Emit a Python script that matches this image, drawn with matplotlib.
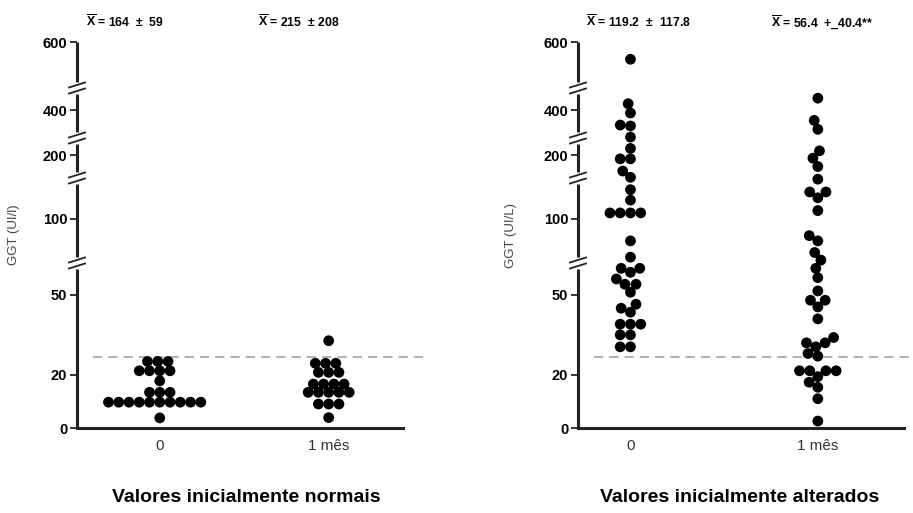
import numpy as np
import matplotlib
matplotlib.use('Agg')
import matplotlib.pyplot as plt
import matplotlib.transforms as mtransforms

# Dados (GGT em UI/L)
grupos = ['0', '1 mês']

normais_0 = [25, 25, 25, 21.5, 21.5, 21.5, 21.5, 17.7, 13.4, 13.4, 13.4,
             9.7, 9.7, 9.7, 9.7, 9.7, 9.7, 9.7, 9.7, 9.7, 9.7, 3.8]
normais_1 = [32.8, 24.3, 24.3, 24.3, 20.9, 20.9, 20.9, 16.5, 16.5, 16.5, 16.5,
             13.4, 13.4, 13.4, 13.4, 13.4, 9, 9, 9, 3.9]

alterados_0 = [570, 435, 385, 320, 315, 255, 220, 190, 190, 155, 137, 125, 116,
               105, 105, 105, 105, 81, 67, 60, 60, 58.5, 56, 54, 54, 51, 46.5,
               45, 43.5, 39, 39, 39, 35, 35, 30.5, 30.5]
alterados_1 = [465, 345, 297, 213, 192, 168, 134, 123, 123, 118, 107, 85.5, 81,
               71, 64.5, 60, 56.5, 51.5, 48, 48, 45.5, 41, 34, 32, 32, 30.5, 28,
               27, 21.5, 21.5, 21.5, 21.5, 19.3, 17.2, 15.3, 11, 2.6]

limite = 26.7   # linha tracejada
ticks_y = [0, 20, 50, 100, 200, 400, 600]

medias_normais = [r'$\overline{\mathbf{X}}$ = 164  $\pm$  59',
                  r'$\overline{\mathbf{X}}$ = 215  $\pm$ 208']
medias_alterados = [r'$\overline{\mathbf{X}}$ = 119.2  $\pm$  117.8',
                    r'$\overline{\mathbf{X}}$ = 56.4  +_40.4**']

# Eixo y quebrado: valor -> altura (px) em cada trecho
quebra_val = [0, 62, 135, 250, 520, 600]
quebra_px = [0, 165, 250, 290, 340, 386]
quebras = quebra_val[1:-1]


def fwd(v):
    return np.interp(v, quebra_val, quebra_px)


def inv(p):
    return np.interp(p, quebra_px, quebra_val)


plt.rcParams['font.family'] = ['Liberation Sans', 'DejaVu Sans']
plt.rcParams['mathtext.fontset'] = 'custom'
plt.rcParams['mathtext.rm'] = 'Liberation Sans:bold'
plt.rcParams['mathtext.bf'] = 'Liberation Sans:bold'

DIAM = 9.5       # distancia minima entre centros (px)
AX_W = 326       # largura do eixo em px


def swarm(valores):
    # deslocamentos horizontais tipo beeswarm (em px)
    ys = fwd(np.asarray(valores, float))
    xs = np.zeros(len(ys))
    colocados = []
    for i in np.argsort(ys, kind='stable'):
        y = ys[i]
        viz = [(xj, yj) for xj, yj in colocados if abs(yj - y) < DIAM]
        cands = [0.0]
        for xj, yj in viz:
            dx = np.sqrt(DIAM ** 2 - (yj - y) ** 2)
            cands += [xj - dx, xj + dx]
        cands.sort(key=lambda c: (abs(c), c))
        for c in cands:
            if all((c - xj) ** 2 + (y - yj) ** 2 >= DIAM ** 2 - 1e-6 for xj, yj in viz):
                break
        xs[i] = c
        colocados.append((c, y))
    return xs


def painel(ax, series, xlim, ylabel, lab_x):
    ax.set_yscale('function', functions=(fwd, inv))
    ax.set_ylim(0, 600)
    ax.set_xlim(*xlim)
    escala = (xlim[1] - xlim[0]) / AX_W
    for k, vals in enumerate(series):
        xs = k + swarm(vals) * escala * 1.08
        ax.scatter(xs, vals, s=60, color='black', edgecolors='none', zorder=3,
                   clip_on=False)

    ax.axhline(limite, xmin=0.05, xmax=1.07, color='#9a9a9a', lw=1.1,
               dashes=(6, 4), clip_on=False, zorder=1)

    # eixo y desenhado em trechos, com as marcas de quebra
    for s in ['top', 'right', 'left']:
        ax.spines[s].set_visible(False)
    ax.spines['bottom'].set_linewidth(2.2)
    ax.spines['bottom'].set_color('#222222')
    trans = mtransforms.blended_transform_factory(ax.transAxes, ax.transData)
    limites = [0] + quebras + [600]
    for j in range(len(limites) - 1):
        lo = limites[j] if j == 0 else inv(fwd(limites[j]) + 6)
        hi = limites[j + 1] if j == len(limites) - 2 else inv(fwd(limites[j + 1]) - 6)
        ax.plot([0, 0], [lo, hi], color='#222222', lw=2.2, transform=trans,
                clip_on=False, solid_capstyle='butt')
    dxa = 8 / AX_W
    for b in quebras:
        pb = fwd(b)
        for off in (-3, 3):
            ax.plot([-dxa, dxa], [inv(pb + off - 2.5), inv(pb + off + 2.5)],
                    color='#222222', lw=1.3, transform=trans, clip_on=False)

    ax.set_yticks(ticks_y)
    ax.set_yticklabels([str(t) for t in ticks_y], fontweight='bold', fontsize=10.5)
    ax.tick_params(axis='y', length=5, width=1.3, color='#222222', pad=2)
    ax.set_xticks(range(len(grupos)))
    ax.set_xticklabels(grupos, fontsize=11, color='#333333')
    ax.tick_params(axis='x', length=0, pad=8)
    ax.set_ylabel(ylabel, fontsize=9.5, color='#444444')
    ax.yaxis.set_label_coords(lab_x, 0.5)


fig = plt.figure(figsize=(9.13, 5.13), dpi=100)
ax1 = fig.add_axes([77 / 913, 85 / 513, AX_W / 913, 386 / 513])
ax2 = fig.add_axes([578 / 913, 85 / 513, AX_W / 913, 386 / 513])

painel(ax1, [normais_0, normais_1], (-0.49, 1.44), 'GGT (UI/l)', -57 / AX_W)
painel(ax2, [alterados_0, alterados_1], (-0.28, 1.46), 'GGT (UI/L)', -61 / AX_W)

# medias no topo de cada grupo
for x0, txt in zip([86, 258, 586, 771], medias_normais + medias_alterados):
    fig.text(x0 / 913, 1 - 22 / 513, txt, ha='left', va='center',
             fontsize=8.8, fontweight='bold')

fig.text(246 / 913, 1 - 497 / 513, 'Valores inicialmente normais', ha='center',
         va='center', fontsize=14, fontweight='bold')
fig.text(740 / 913, 1 - 497 / 513, 'Valores inicialmente alterados', ha='center',
         va='center', fontsize=14, fontweight='bold')

fig.savefig('out.png', dpi=100)
